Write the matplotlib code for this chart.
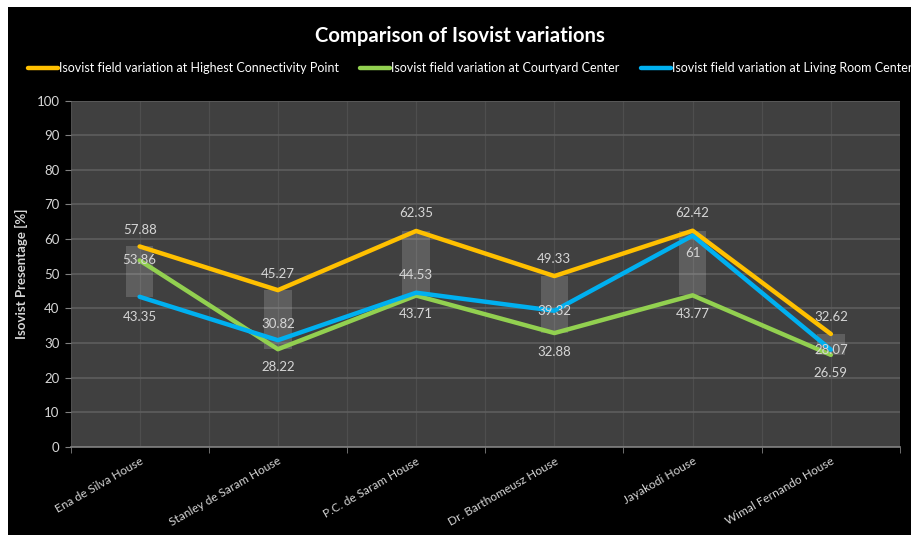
import matplotlib
matplotlib.use("Agg")
import matplotlib.pyplot as plt
from matplotlib.lines import Line2D
from matplotlib.patches import Rectangle
import numpy as np

categories = ["Ena de Silva House", "Stanley de Saram House", "P.C. de Saram House",
              "Dr. Barthomeusz House", "Jayakodi House", "Wimal Fernando House"]
series_names = ["Isovist field variation at Highest Connectivity Point",
                "Isovist field variation at Courtyard Center",
                "Isovist field variation at Living Room Center"]
highest_connectivity = [57.88, 45.27, 62.35, 49.33, 62.42, 32.62]
courtyard_center = [53.86, 28.22, 43.71, 32.88, 43.77, 26.59]
living_room_center = [43.35, 30.82, 44.53, 39.32, 61.00, 28.07]
y_ticks = [0, 10, 20, 30, 40, 50, 60, 70, 80, 90, 100]

series = [highest_connectivity, courtyard_center, living_room_center]
colors = ["#FFC000", "#92D050", "#00B0F0"]
# label vertical offsets in pixels (style only)
label_offsets = [
    [16, 16, 18, 17, 18, 17],
    [0, -18, -18, -19, -19, -18],
    [-20, 16, 18, 0, -17, 0],
]

FONT = ["Lato", "DejaVu Sans"]
W, H = 912, 535
fig = plt.figure(figsize=(W / 100, H / 100), dpi=100, facecolor="white")
fig.patches.append(Rectangle((8 / W, 0), 1 - 8 / W, 1 - 7 / H, transform=fig.transFigure,
                             facecolor="black", edgecolor="none", zorder=-10))

ax = fig.add_axes([70.5 / W, (H - 447) / H, (900 - 70.5) / W, (447 - 100.5) / H])
ax.set_facecolor("#404040")
x = np.arange(len(categories))

# high-low bars
arr = np.array(series)
hi = arr.max(axis=0)
lo = arr.min(axis=0)
ax.bar(x, hi - lo, bottom=lo, width=0.2, color="white", alpha=0.16, zorder=2, linewidth=0)

for vals, c in zip(series, colors):
    ax.plot(x, vals, color=c, lw=3.2, zorder=3, solid_capstyle="round", solid_joinstyle="round")

for vals, offs in zip(series, label_offsets):
    for xi, v, o in zip(x, vals, offs):
        lbl = f"{v:g}"
        ax.annotate(lbl, (xi, v), xytext=(0, o * 0.72), textcoords="offset points",
                    ha="center", va="center", color="#d6d6d6", fontsize=9.5,
                    family=FONT, zorder=5)

ax.set_xlim(-0.5, len(categories) - 0.5)
ax.set_ylim(0, 100)
ax.set_yticks(y_ticks)
ax.set_yticklabels([str(t) for t in y_ticks], family=FONT, fontsize=9.5, color="#d6d6d6")
ax.set_xticks(x)
ax.set_xticks(np.arange(-0.5, len(categories), 1.0), minor=True)
ax.set_xticklabels(categories, rotation=30, ha="right", rotation_mode="anchor",
                   family=FONT, fontsize=8.6, color="#d6d6d6")
ax.tick_params(axis="x", which="major", length=0, pad=6)
ax.tick_params(axis="x", which="minor", length=4, color="#808080")
ax.tick_params(axis="y", length=4, color="#808080", pad=4)
ax.grid(axis="y", color="#5e5e5e", lw=1.2, zorder=0)
ax.grid(axis="x", which="both", color="#4e4e4e", lw=0.9, zorder=0)
ax.set_axisbelow(True)
for s in ["top", "right", "left"]:
    ax.spines[s].set_visible(False)
ax.spines["bottom"].set_color("#808080")
ax.spines["bottom"].set_linewidth(1.2)

ax.set_ylabel("Isovist Presentage [%]", family=FONT, fontweight="bold", fontsize=9.5,
              color="#d6d6d6")
ax.yaxis.set_label_coords((28 - 70.5) / 829.5, 0.5)

fig.text(460 / W, 1 - 36 / H, "Comparison of Isovist variations", ha="center", va="center",
         color="white", fontsize=14.6, fontweight="bold", family=FONT)

legend_x = [28, 360, 641]
ly = 1 - 68 / H
for name, c, lx in zip(series_names, colors, legend_x):
    fig.lines.append(Line2D([lx / W, (lx + 30) / W], [ly, ly], transform=fig.transFigure,
                            color=c, lw=3.2, solid_capstyle="round"))
    fig.text((lx + 31) / W, ly, name, ha="left", va="center", color="white",
             fontsize=9, family=FONT)

fig.savefig("out.png", dpi=100, facecolor=fig.get_facecolor())
